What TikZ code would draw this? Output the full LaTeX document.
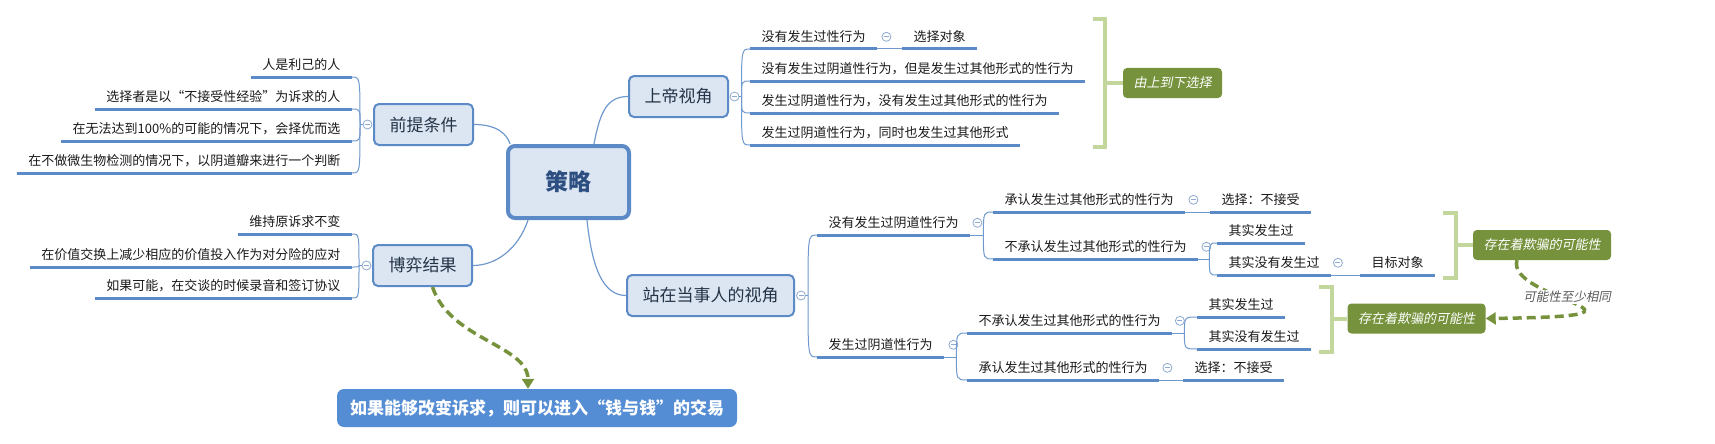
\documentclass[tikz,border=0pt]{standalone}
\usepackage{fontspec}
\setmainfont{Noto Sans CJK SC}
\newfontfamily\slantfont[FakeSlant=0.2]{Noto Sans CJK SC}
\usetikzlibrary{arrows.meta}
\definecolor{lb}{HTML}{5B8AC6}
\definecolor{thinb}{HTML}{7099CE}
\definecolor{topfill}{HTML}{DCE6F2}
\definecolor{olivec}{HTML}{76923C}
\definecolor{brkcol}{HTML}{C3D69B}
\definecolor{circc}{HTML}{8DA9D0}
\definecolor{finb}{HTML}{548DD4}
\definecolor{cetext}{HTML}{2D4E80}
\definecolor{toptext}{HTML}{243447}
\definecolor{leaftext}{HTML}{1A1A1A}
\definecolor{labtext}{HTML}{595959}
\begin{document}
\begin{tikzpicture}[x=1pt,y=-1pt,
  leafbase/.style={inner xsep=11.5pt, inner ysep=5.5pt, text height=11pt, text depth=2pt,
    font=\fontsize{13}{15}\selectfont, text=leaftext},
  leafR/.style={leafbase, anchor=south west},
  leafL/.style={leafbase, anchor=south east},
  uline/.style={draw=lb, line width=3pt},
  thinline/.style={draw=thinb, line width=1pt},
  mainline/.style={draw=thinb, line width=1.2pt},
  topicbox/.style={draw=lb, line width=2pt, fill=topfill, rounded corners=5pt,
    minimum height=41pt, inner xsep=15.5pt, font=\fontsize{17}{20}\selectfont, text=toptext},
  centralbox/.style={draw=lb, line width=4pt, fill=topfill, rounded corners=7pt,
    minimum width=121pt, minimum height=72pt, font=\fontsize{23}{26}\selectfont\bfseries, text=cetext},
  ccirc/.style={circle, draw=circc, fill=white, line width=0.8pt, minimum size=9pt, inner sep=0pt,
    path picture={\draw[circc, line width=0.8pt] ([xshift=-2.5pt]path picture bounding box.center) -- ([xshift=2.5pt]path picture bounding box.center);}},
  sumbox/.style={fill=olivec, rounded corners=4pt, minimum height=30pt, inner xsep=10.5pt,
    text=white, font=\fontsize{13}{15}\slantfont},
  brkline/.style={draw=brkcol, line width=4pt},
  dasharrow/.style={draw=olivec, line width=3.5pt, dash pattern=on 9pt off 5pt,
    -{Triangle[length=10pt,width=12pt]}},
  finbox/.style={fill=finb, rounded corners=7pt, minimum height=38pt, inner xsep=13pt,
    text=white, font=\fontsize{17}{20}\selectfont\bfseries},
  lblnode/.style={fill=white, inner sep=1pt, text=labtext, font=\fontsize{12.5}{14}\slantfont}
]
\fill[white] (0,0) rectangle (1715,444);
\useasboundingbox (0,0) rectangle (1715,444);

% ---------- main nodes ----------
\node[centralbox] (ce) at (568.5,182) {策略};
\node[topicbox] (pre) at (423.5,124.5) {前提条件};
\node[topicbox] (bo) at (422.5,265.5) {博弈结果};
\node[topicbox] (sd) at (678.5,96.5) {上帝视角};
\node[topicbox] (zd) at (710.5,295.5) {站在当事人的视角};

% main connectors
\draw[mainline] (pre.east) .. controls (497,124.5) and (507,134) .. ([xshift=4pt]ce.north west);
\draw[mainline] ([xshift=25.5pt]ce.north) .. controls (600,112) and (607,96.5) .. (sd.west);
\draw[mainline] ([xshift=-40.5pt]ce.south) .. controls (518,250) and (495,265.5) .. (bo.east);
\draw[mainline] ([xshift=18.5pt]ce.south) .. controls (592,268) and (603,295.5) .. (zd.west);

% ---------- left: 前提条件 ----------
\node[leafL] (p1) at (352,77) {人是利己的人};
\node[leafL] (p2) at (352,109) {选择者是以“不接受性经验”为诉求的人};
\node[leafL] (p3) at (352,141) {在无法达到100\%的可能的情况下，会择优而选};
\node[leafL] (p4) at (352,173) {在不做微生物检测的情况下，以阴道瓣来进行一个判断};
\foreach \n in {p1,p2,p3,p4} \draw[uline] (\n.south west) -- (\n.south east);
\node[ccirc] (cpre) at ([xshift=-5.5pt]pre.west) {};
\coordinate (jpre) at ([xshift=-13pt]pre.west);
\draw[thinline] (cpre.west) -- (jpre);
\foreach \n in {p1,p2,p3,p4}
  \draw[thinline] (jpre) .. controls (jpre |- \n.south east) .. (\n.south east);

% ---------- left: 博弈结果 ----------
\node[leafL] (b1) at (352,234) {维持原诉求不变};
\node[leafL] (b2) at (352,267) {在价值交换上减少相应的价值投入作为对分险的应对};
\node[leafL] (b3) at (352,298) {如果可能，在交谈的时候录音和签订协议};
\foreach \n in {b1,b2,b3} \draw[uline] (\n.south west) -- (\n.south east);
\node[ccirc] (cbo) at ([xshift=-5.5pt]bo.west) {};
\coordinate (jbo) at ([xshift=-13pt]bo.west);
\draw[thinline] (cbo.west) -- (jbo);
\foreach \n in {b1,b2,b3}
  \draw[thinline] (jbo) .. controls (jbo |- \n.south east) .. (\n.south east);

% ---------- right: 上帝视角 ----------
\node[leafR] (s1) at (750,49) {没有发生过性行为};
\node[leafR] (s1a) at (902,49) {选择对象};
\node[leafR] (s2) at (750,81) {没有发生过阴道性行为，但是发生过其他形式的性行为};
\node[leafR] (s3) at (750,113) {发生过阴道性行为，没有发生过其他形式的性行为};
\node[leafR] (s4) at (750,145) {发生过阴道性行为，同时也发生过其他形式};
\foreach \n in {s1,s1a,s2,s3,s4} \draw[uline] (\n.south west) -- (\n.south east);
\node[ccirc] (csd) at ([xshift=5.5pt]sd.east) {};
\coordinate (jsd) at ([xshift=12.5pt]sd.east);
\draw[thinline] (csd.east) -- (jsd);
\foreach \n in {s1,s2,s3,s4}
  \draw[thinline] (jsd) .. controls (jsd |- \n.south west) .. (\n.south west);
\node[ccirc] (cs1) at ([xshift=9pt]s1.east) {};
\draw[thinline] (s1.south east) -- (s1a.south west);

% bracket + summary
\node[sumbox] (sum1) at (1172.5,83) {由上到下选择};
\draw[brkline] (1093,19) -- (1105,19) -- (1105,147) -- (1093,147);
\draw[brkline] (1105,83) -- (sum1.west);

% ---------- right: 站在当事人的视角 ----------
\node[leafR] (n1) at (817,235) {没有发生过阴道性行为};
\node[leafR] (y1) at (817,357) {发生过阴道性行为};
\node[ccirc] (czd) at ([xshift=6pt]zd.east) {};
\coordinate (jzd) at ([xshift=13pt]zd.east);
\draw[thinline] (czd.east) -- (jzd);
\foreach \n in {n1,y1}
  \draw[thinline] (jzd) .. controls (jzd |- \n.south west) .. (\n.south west);

% 没有发生过阴道性行为 branch
\node[leafR] (n11) at (993,212) {承认发生过其他形式的性行为};
\node[leafR] (n11a) at (1210,212) {选择：不接受};
\node[leafR] (n12) at (993,259) {不承认发生过其他形式的性行为};
\node[leafR] (n121) at (1217,243) {其实发生过};
\node[leafR] (n122) at (1217,275) {其实没有发生过};
\node[leafR] (n122a) at (1360,275) {目标对象};
\node[ccirc] (cn1) at ([xshift=7pt]n1.east) {};
\coordinate (jn1) at ([xshift=13pt]n1.south east);
\draw[thinline] (n1.south east) -- (jn1);
\foreach \n in {n11,n12}
  \draw[thinline] (jn1) .. controls (jn1 |- \n.south west) .. (\n.south west);
\node[ccirc] (cn11) at ([xshift=8pt]n11.east) {};
\draw[thinline] (n11.south east) -- (n11a.south west);
\node[ccirc] (cn12) at ([xshift=8pt]n12.east) {};
\coordinate (jn12) at ([xshift=11pt]n12.south east);
\draw[thinline] (n12.south east) -- (jn12);
\foreach \n in {n121,n122}
  \draw[thinline] (jn12) .. controls (jn12 |- \n.south west) .. (\n.south west);
\node[ccirc] (cn122) at ([xshift=6.5pt]n122.east) {};
\draw[thinline] (n122.south east) -- (n122a.south west);

% 发生过阴道性行为 branch
\node[leafR] (y11) at (967,333) {不承认发生过其他形式的性行为};
\node[leafR] (y111) at (1197,317) {其实发生过};
\node[leafR] (y112) at (1197,349) {其实没有发生过};
\node[leafR] (y12) at (967,380) {承认发生过其他形式的性行为};
\node[leafR] (y12a) at (1183,380) {选择：不接受};
\node[ccirc] (cy1) at ([xshift=9pt]y1.east) {};
\coordinate (jy1) at ([xshift=12pt]y1.south east);
\draw[thinline] (y1.south east) -- (jy1);
\foreach \n in {y11,y12}
  \draw[thinline] (jy1) .. controls (jy1 |- \n.south west) .. (\n.south west);
\node[ccirc] (cy11) at ([xshift=7.5pt]y11.east) {};
\coordinate (jy11) at ([xshift=12pt]y11.south east);
\draw[thinline] (y11.south east) -- (jy11);
\foreach \n in {y111,y112}
  \draw[thinline] (jy11) .. controls (jy11 |- \n.south west) .. (\n.south west);
\node[ccirc] (cy12) at ([xshift=8pt]y12.east) {};
\draw[thinline] (y12.south east) -- (y12a.south west);

\foreach \n in {n1,y1,n11,n11a,n12,n121,n122,n122a,y11,y111,y112,y12,y12a}
  \draw[uline] (\n.south west) -- (\n.south east);

% brackets + summaries
\node[sumbox] (sum2) at (1542,245) {存在着欺骗的可能性};
\draw[brkline] (1443,213) -- (1456,213) -- (1456,278) -- (1443,278);
\draw[brkline] (1456,245) -- (sum2.west);
\node[sumbox] (sum3) at (1416.5,318.5) {存在着欺骗的可能性};
\draw[brkline] (1319,287) -- (1332,287) -- (1332,352) -- (1319,352);
\draw[brkline] (1332,318.5) -- (sum3.west);

% dashed relationship
\draw[dasharrow] ([xshift=-25pt]sum2.south) .. controls (1505,300) and (1690,316) .. (sum3.east);
\node[lblnode] (lab) at (1567,297) {可能性至少相同};

% bottom box
\node[finbox] (fin) at (537,408) {如果能够改变诉求，则可以进入“钱与钱”的交易};
\draw[dasharrow] ([xshift=10pt]bo.south) .. controls (450,340) and (528,345) .. ([xshift=-9pt]fin.north);
\end{tikzpicture}
\end{document}
